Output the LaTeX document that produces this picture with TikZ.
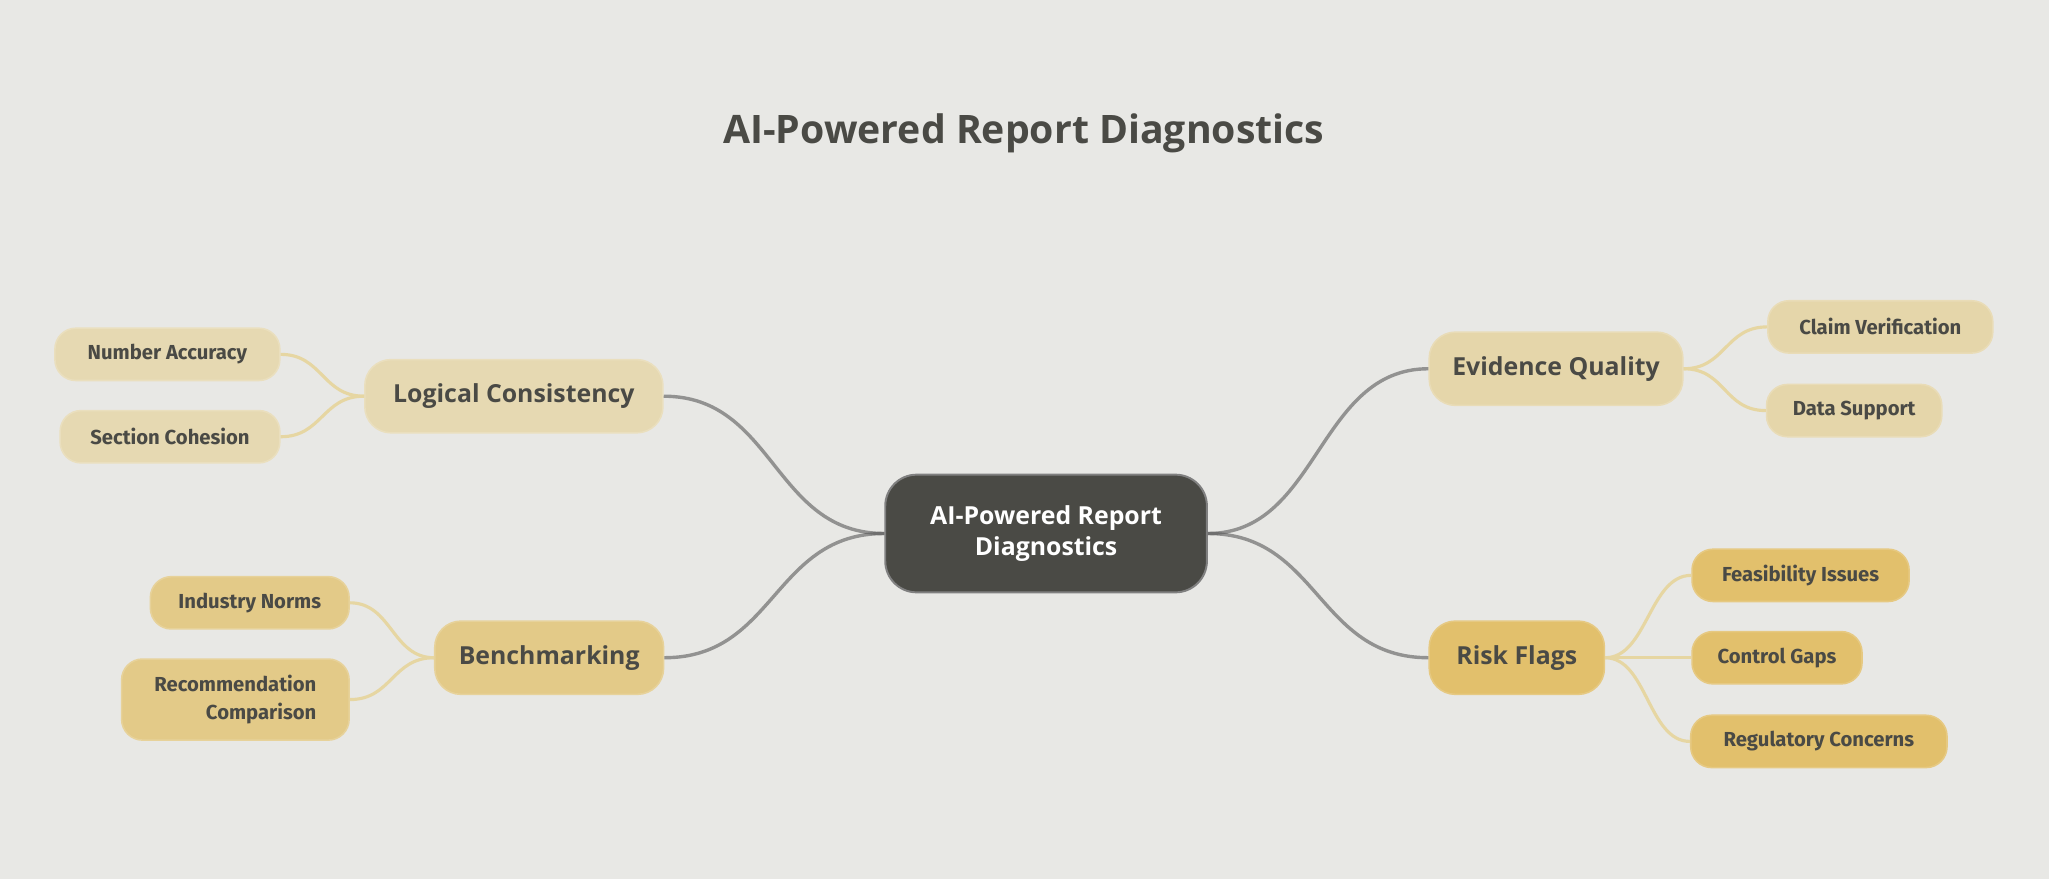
\documentclass[tikz,border=0pt]{standalone}
\usepackage{fontspec}
\setmainfont{Open Sans}
\newfontfamily\leaffont{Fira Sans}
\definecolor{bg}{HTML}{E8E8E5}
\definecolor{ink}{HTML}{4A4A45}
\definecolor{cdark}{HTML}{4A4A45}
\definecolor{lc}{HTML}{E6D9B2}
\definecolor{eq}{HTML}{E5D6AA}
\definecolor{bm}{HTML}{E3CA88}
\definecolor{rf}{HTML}{E2C06C}
\definecolor{leafline}{HTML}{E6D6A2}
\begin{document}
\begin{tikzpicture}[x=1pt,y=-1pt,
 base/.style={rounded corners=16pt,align=center,text=ink,inner sep=0pt},
 branch/.style={base,font=\fontsize{19}{22}\selectfont\bfseries,minimum height=56pt,rounded corners=20pt,draw=#1!85!white,line width=1.2pt,fill=#1},
 leaf/.style={base,font=\leaffont\fontsize{15.5}{21}\selectfont\bfseries,minimum height=40pt,draw=#1!85!white,line width=1.2pt,fill=#1},
 main/.style={gray!70!black,line width=2.6pt,opacity=0.6},
 sub/.style={leafline,line width=2.4pt}]
\fill[bg] (0,0) rectangle (1567,672);
\useasboundingbox (0,0) rectangle (1567,672);
\node[font=\fontsize{30}{36}\selectfont\bfseries,text=ink] (title) at (783,102) {AI-Powered Report Diagnostics};
\node[base,fill=cdark,draw=gray,line width=1.5pt,rounded corners=24pt,minimum width=246pt,minimum height=90pt,text=white,font=\fontsize{19}{24}\selectfont\bfseries] (c) at (800,408) {AI-Powered Report\\Diagnostics};
\node[branch=lc,minimum width=228pt] (lcn) at (393,303) {Logical Consistency};
\node[branch=bm,minimum width=175pt] (bmn) at (420,503) {Benchmarking};
\node[branch=eq,minimum width=194pt] (eqn) at (1190,282) {Evidence Quality};
\node[branch=rf,minimum width=134pt] (rfn) at (1160,503) {Risk Flags};
\node[leaf=lc,minimum width=172pt] (na) at (128,271) {Number Accuracy};
\node[leaf=lc,minimum width=168pt] (sc) at (130,334) {Section Cohesion};
\node[leaf=bm,minimum width=152pt] (in) at (191,461) {Industry Norms};
\node[leaf=bm,minimum width=174pt,minimum height=62pt,align=right] (rc) at (180,535) {Recommendation\\Comparison};
\node[leaf=eq,minimum width=172pt] (cv) at (1438,250) {Claim Verification};
\node[leaf=eq,minimum width=134pt] (ds) at (1418,314) {Data Support};
\node[leaf=rf,minimum width=166pt] (fi) at (1377,440) {Feasibility Issues};
\node[leaf=rf,minimum width=130pt] (cg) at (1359,503) {Control Gaps};
\node[leaf=rf,minimum width=196pt] (reg) at (1391,567) {Regulatory Concerns};
\begin{scope}[on background layer/.style={}]
\draw[main] (c.west) .. controls +(-85,0) and +(85,0) .. (lcn.east);
\draw[main] (c.west) .. controls +(-85,0) and +(85,0) .. (bmn.east);
\draw[main] (c.east) .. controls +(85,0) and +(-85,0) .. (eqn.east -| eqn.west);
\draw[main] (c.east) .. controls +(85,0) and +(-85,0) .. (rfn.west);
\draw[sub] (lcn.west) .. controls +(-32,0) and +(32,0) .. (na.east);
\draw[sub] (lcn.west) .. controls +(-32,0) and +(32,0) .. (sc.east);
\draw[sub] (bmn.west) .. controls +(-32,0) and +(32,0) .. (in.east);
\draw[sub] (bmn.west) .. controls +(-32,0) and +(32,0) .. (rc.east);
\draw[sub] (eqn.east) .. controls +(32,0) and +(-32,0) .. (cv.west);
\draw[sub] (eqn.east) .. controls +(32,0) and +(-32,0) .. (ds.west);
\draw[sub] (rfn.east) .. controls +(32,0) and +(-32,0) .. (fi.west);
\draw[sub] (rfn.east) -- (cg.west);
\draw[sub] (rfn.east) .. controls +(32,0) and +(-32,0) .. (reg.west);
\end{scope}
\end{tikzpicture}
\end{document}
